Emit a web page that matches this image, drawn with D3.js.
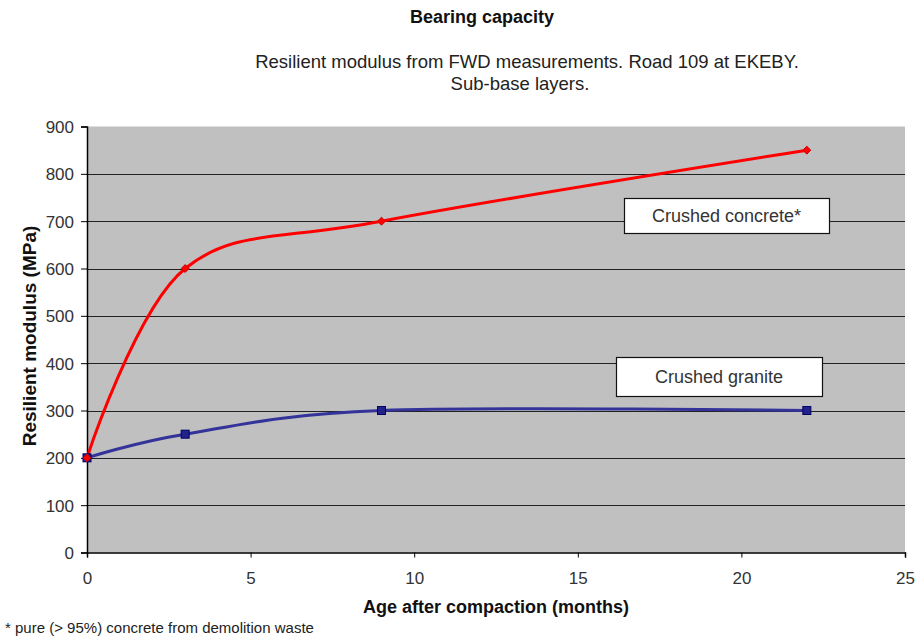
<!DOCTYPE html>
<html><head><meta charset="utf-8">
<script src="https://cdn.jsdelivr.net/npm/d3@7"></script>
<style>body{margin:0;background:#fff}svg{display:block}text{font-family:"Liberation Sans",Arial,sans-serif}</style>
</head><body><svg id="c" width="915" height="641"></svg>
<script>
const months = [0, 3, 9, 22];
const concrete = [200, 600, 700, 850];
const granite = [200, 250, 300, 300];
const xTicks = [0, 5, 10, 15, 20, 25];
const yTicks = [0, 100, 200, 300, 400, 500, 600, 700, 800, 900];
const seriesNames = ["Crushed concrete*", "Crushed granite"];

const svg = d3.select("#c");
const L = 87, R = 905, T = 126.5, B = 552.5;
const x = d3.scaleLinear().domain([0, 25]).range([L, R]);
const y = d3.scaleLinear().domain([0, 900]).range([B, T]);

svg.append("rect").attr("x", L).attr("y", T).attr("width", R - L).attr("height", B - T).attr("fill", "#c0c0c0");

// gridlines
svg.append("g").selectAll("line").data(yTicks.filter(d => d > 0 && d < 900)).join("line")
  .attr("x1", L).attr("x2", R).attr("y1", d => Math.round(y(d)) + 0.5).attr("y2", d => Math.round(y(d)) + 0.5)
  .attr("stroke", "#222").attr("stroke-width", 1.2);

// axes
const yAxis = svg.append("g").attr("transform", `translate(${L},0)`)
  .call(d3.axisLeft(y).tickValues(yTicks).tickSize(6).tickPadding(7));
yAxis.select(".domain").attr("stroke", "#000").attr("stroke-width", 1.5);
yAxis.selectAll("text").attr("font-size", 17).attr("fill", "#333").attr("dy", "0.35em");
const xAxis = svg.append("g").attr("transform", `translate(0,${B})`)
  .call(d3.axisBottom(x).tickValues(xTicks).tickSize(5).tickPadding(14));
xAxis.select(".domain").attr("stroke", "#000").attr("stroke-width", 1.5);
xAxis.selectAll("text").attr("font-size", 17).attr("fill", "#333");

const line = d3.line().x(d => x(d[0])).y(d => y(d[1])).curve(d3.curveCatmullRom.alpha(0));
const cData = months.map((m, i) => [m, concrete[i]]);
const gData = months.map((m, i) => [m, granite[i]]);

svg.append("path").datum(gData).attr("d", line).attr("fill", "none").attr("stroke", "#333399").attr("stroke-width", 3);
svg.append("path").datum(cData).attr("d", line).attr("fill", "none").attr("stroke", "#ff0000").attr("stroke-width", 3);

svg.append("g").selectAll("rect").data(gData).join("rect")
  .attr("x", d => x(d[0]) - 4).attr("y", d => y(d[1]) - 4).attr("width", 8).attr("height", 8)
  .attr("fill", "#222288").attr("stroke", "#000066").attr("stroke-width", 1);
svg.append("g").selectAll("path").data(cData).join("path")
  .attr("d", d3.symbol(d3.symbolDiamond2, 40))
  .attr("transform", d => `translate(${x(d[0])},${y(d[1])})`)
  .attr("fill", "#ff0000").attr("stroke", "#cc0000");

// series labels
const boxes = [
  {name: seriesNames[0], x0: 624, y0: 198, w: 205, h: 35},
  {name: seriesNames[1], x0: 616, y0: 357, w: 206, h: 39}
];
boxes.forEach(b => {
  svg.append("rect").attr("x", b.x0 + 0.5).attr("y", b.y0 + 0.5).attr("width", b.w).attr("height", b.h)
    .attr("fill", "#fff").attr("stroke", "#111").attr("stroke-width", 1.2);
  svg.append("text").attr("x", b.x0 + b.w / 2).attr("y", b.y0 + b.h / 2 + 6).attr("text-anchor", "middle")
    .attr("font-size", 18).attr("fill", "#333").text(b.name);
});

// titles
svg.append("text").attr("x", 482).attr("y", 23).attr("text-anchor", "middle").attr("font-size", 18).attr("font-weight", "bold").attr("fill", "#111").text("Bearing capacity");
svg.append("text").attr("x", 527).attr("y", 68).attr("text-anchor", "middle").attr("font-size", 18.5).attr("fill", "#222").text("Resilient modulus from FWD measurements. Road 109 at EKEBY.");
svg.append("text").attr("x", 520).attr("y", 90).attr("text-anchor", "middle").attr("font-size", 18.5).attr("fill", "#222").text("Sub-base layers.");
svg.append("text").attr("x", 496).attr("y", 613).attr("text-anchor", "middle").attr("font-size", 18).attr("font-weight", "bold").attr("fill", "#111").text("Age after compaction (months)");
svg.append("text").attr("transform", `translate(36,336) rotate(-90)`).attr("text-anchor", "middle").attr("font-size", 19).attr("font-weight", "bold").attr("fill", "#111").text("Resilient modulus (MPa)");
svg.append("text").attr("x", 5).attr("y", 633).attr("font-size", 15).attr("fill", "#222").text("* pure (> 95%) concrete from demolition waste");
</script></body></html>
